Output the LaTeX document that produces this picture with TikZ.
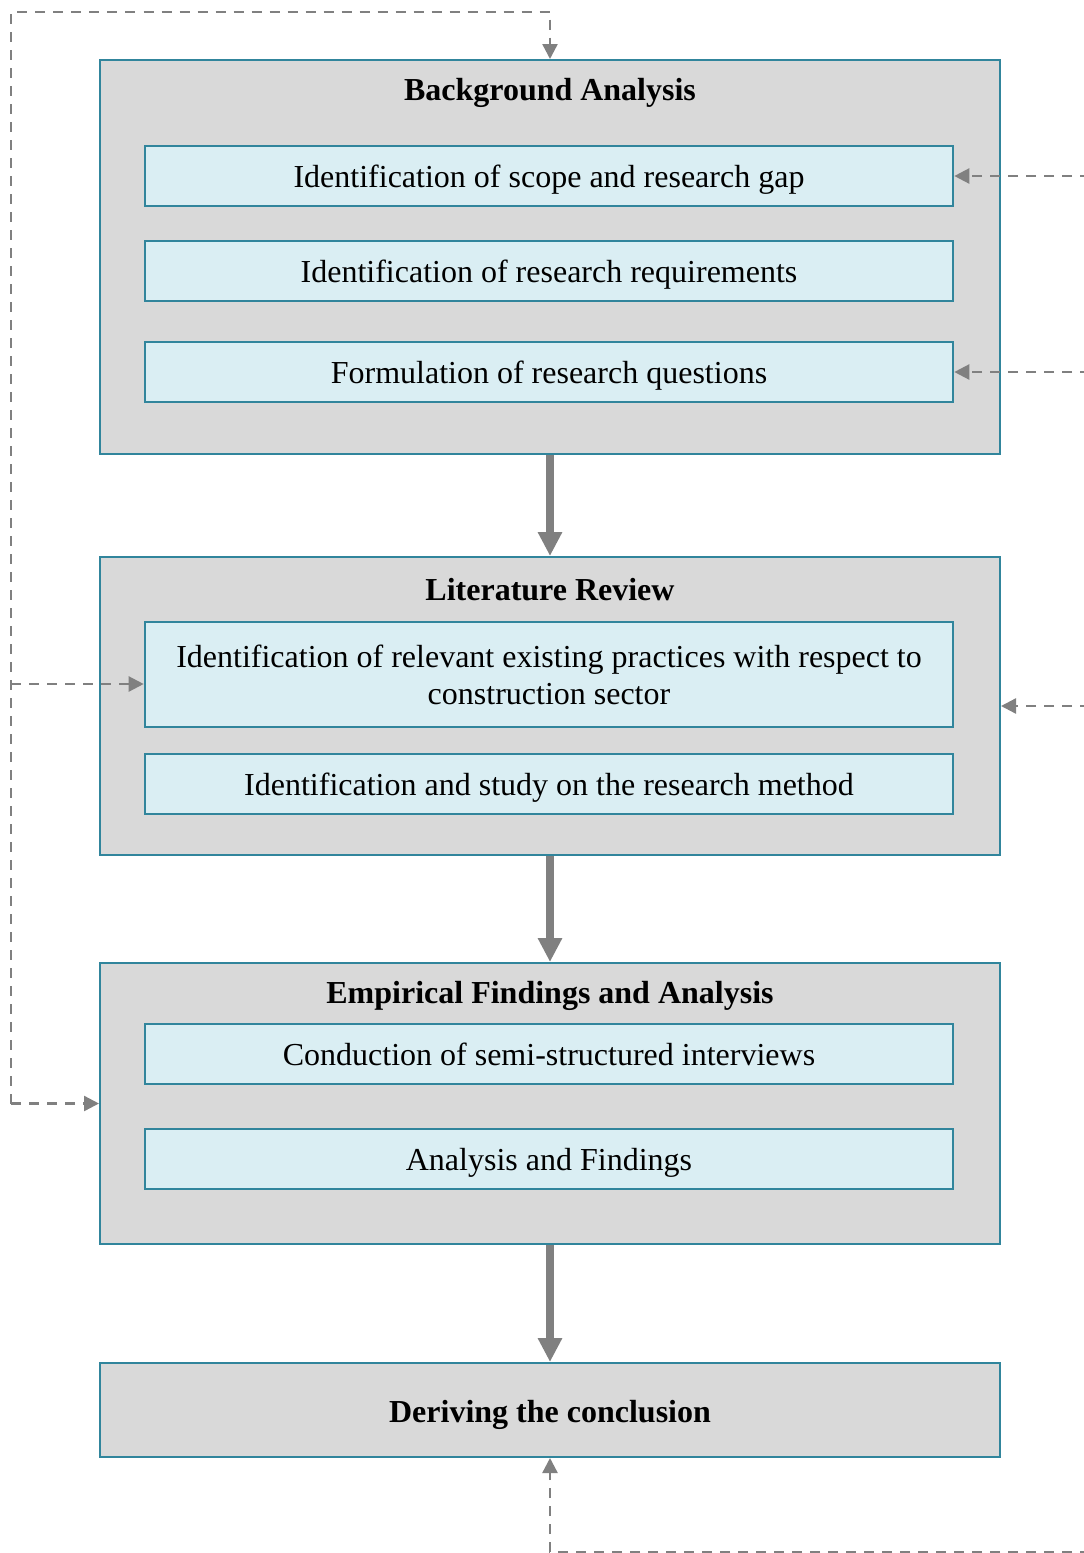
\documentclass[tikz,border=0pt]{standalone}
\usepackage{fontspec}
\setmainfont{Liberation Serif}
\usetikzlibrary{arrows.meta}
\definecolor{frameline}{HTML}{31859C}
\definecolor{framefill}{HTML}{D9D9D9}
\definecolor{stepfill}{HTML}{DAEEF3}
\definecolor{linkgray}{HTML}{808080}
\begin{document}
\begin{tikzpicture}[x=0.5pt,y=-0.5pt,
  phase/.style={draw=frameline, fill=framefill, line width=1pt,
    minimum width=450pt, inner sep=0pt, font=\fontsize{16}{19}\selectfont\bfseries},
  stepbox/.style={draw=frameline, fill=stepfill, line width=1.3pt,
    minimum width=404pt, minimum height=30pt, inner sep=0pt, align=center,
    font=\fontsize{16}{18.5}\selectfont},
  oneline/.style={text height=15pt, text depth=3.6pt},
  heading/.style={inner sep=0pt, font=\fontsize{16}{19}\selectfont\bfseries},
  flow/.style={draw=linkgray, line width=4pt, -{Triangle[length=12pt,width=11.5pt]}},
  link/.style={draw=linkgray, line width=1.2pt, dash pattern=on 5pt off 4pt,
    -{Triangle[length=7.5pt,width=7.5pt]}}]
\useasboundingbox (0,0) rectangle (1083,1553);

% phase frames
\node[phase, minimum height=197pt] (bg) at (550,257) {};
\node[phase, minimum height=149pt] (lr) at (550,706) {};
\node[phase, minimum height=140.5pt] (emp) at (550,1103.5) {};
\node[phase, minimum height=47pt, text height=16pt, text depth=3.5pt] (con) at (550,1410)
  {Deriving the conclusion};

% headings
\node[heading] (bgt) at (550,93) {Background Analysis};
\node[heading] (lrt) at (550,590) {Literature Review};
\node[heading] (empt) at (550,996) {Empirical Findings and Analysis};

% steps
\node[stepbox, oneline] (bg1) at (549,176) {Identification of scope and research gap};
\node[stepbox, oneline] (bg2) at (549,271) {Identification of research requirements};
\node[stepbox, oneline] (bg3) at (549,372) {Formulation of research questions};
\node[stepbox, minimum height=52.5pt] (lr1) at (549,674.5)
  {Identification of relevant existing practices with respect to\\construction sector};
\node[stepbox, oneline] (lr2) at (549,784) {Identification and study on the research method};
\node[stepbox, oneline] (emp1) at (549,1054) {Conduction of semi-structured interviews};
\node[stepbox, oneline] (emp2) at (549,1159) {Analysis and Findings};

% main flow
\draw[flow] (bg.south) -- (lr.north);
\draw[flow] (lr.south) -- (emp.north);
\draw[flow] (emp.south) -- (con.north);

% feedback loops
\coordinate (lbot) at (11,1103.5);
\coordinate (ltop) at (11,12);
\coordinate (lmid) at (11,684);
\coordinate (r1) at (1090,176);
\coordinate (r2) at (1090,372);
\coordinate (r3) at (1090,706);
\coordinate (rb) at (1090,1552);

\draw[link] (lbot) -- (ltop) -| (bg.north);
\draw[link] (lmid) -- (lmid -| lr1.west);
\draw[link] (lbot) -- (emp.west);
\draw[link] (r1) -- (bg1.east);
\draw[link] (r2) -- (bg3.east);
\draw[link] (r3) -- (lr.east);
\draw[link] (rb) -| (con.south);
\end{tikzpicture}
\end{document}
